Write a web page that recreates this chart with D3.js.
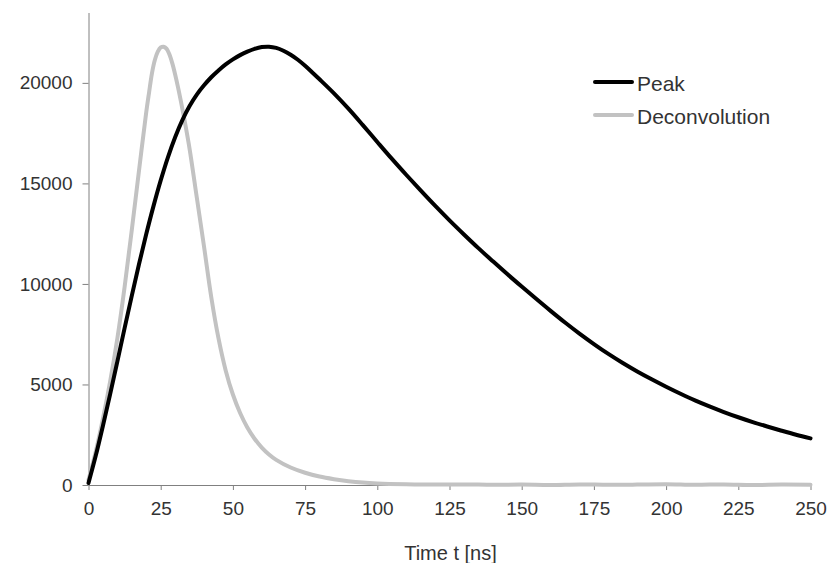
<!DOCTYPE html>
<html>
	<head>
		<meta charset="utf-8">
		<style>
			body{
				margin:0;
				background:#fff;
			}
			.tick text, .legend text, .title{
				font-family:"Liberation Sans", Arial, sans-serif;
				fill:#333;
			}
			.axis path, .axis line{
				stroke:#808080;
				stroke-width:1px;
			}
			.line{
				fill:none;
				stroke-linejoin:round;
				stroke-linecap:round;
			}
			.line-peak{
				stroke:#000;
				stroke-width:4px;
			}
			.line-deconv{
				stroke:#c2c2c2;
				stroke-width:4px;
			}
		</style>
		<script src="https://d3js.org/d3.v7.min.js"></script>
	</head>
	<body>
		<div class="container"></div>
		<script type="text/javascript">

			// series names (legend)
			var series_names = ["Peak", "Deconvolution"];

			// Peak: time [ns] and counts
			var peak_t = [0, 2.5, 5, 7.5, 10, 12.5, 15, 17.5, 20, 22.5, 25, 27.5, 30, 32.5, 35, 37.5, 40,
				42.5, 45, 47.5, 50, 52.5, 55, 57.5, 60, 62.5, 65, 67.5, 70, 72.5, 75, 77.5, 80, 85, 90, 95,
				100, 105, 110, 115, 120, 125, 130, 135, 140, 145, 150, 155, 160, 165, 170, 175, 180,
				185, 190, 195, 200, 205, 210, 215, 220, 225, 230, 235, 240, 245, 250];
			var peak_val = [100, 1450, 2950, 4520, 6150, 7800, 9420, 10990, 12480, 13870, 15150, 16300, 17300, 18150, 18850, 19420, 19880,
				20280, 20620, 20920, 21170, 21380, 21550, 21690, 21780, 21800, 21740, 21600, 21400, 21150, 20850, 20520, 20180, 19480, 18720, 17900,
				17060, 16230, 15430, 14650, 13890, 13160, 12460, 11780, 11130, 10490, 9870, 9260, 8660, 8080, 7530, 7010, 6520,
				6070, 5650, 5260, 4890, 4540, 4210, 3910, 3630, 3370, 3130, 2910, 2700, 2500, 2320];

			// Deconvolution: time [ns] and counts
			var deconv_t = [0, 2.5, 5, 7.5, 10, 12.5, 15, 17.5, 20, 21, 22, 23, 24, 25, 26, 27, 28, 29, 30, 31, 32,
				33.5, 35, 37.5, 40, 42.5, 45, 47.5, 50, 52.5, 55, 57.5, 60, 62.5, 65, 70, 75, 80, 85, 90, 95,
				100, 110, 120, 130, 140, 150, 160, 170, 180, 190, 200, 210, 220, 230, 240, 250];
			var deconv_val = [250, 1650, 3300, 5150, 7300, 9850, 12700, 15650, 18550, 19550, 20500, 21150, 21550, 21760, 21800, 21700, 21420, 20980, 20420, 19780, 19080,
				17950, 16720, 14300, 11860, 9350, 7300, 5700, 4500, 3580, 2860, 2300, 1860, 1520, 1250, 870, 610, 420, 290, 190, 120,
				80, 40, 20, 30, 10, 20, 0, 30, 10, 20, 40, 10, 30, 0, 20, 10];

			// tick labels
			var x_ticks = [0, 25, 50, 75, 100, 125, 150, 175, 200, 225, 250];
			var y_ticks = [0, 5000, 10000, 15000, 20000];

			function draw(){

				var margin = {top:12.5, bottom:78, left:88.5, right:21.5},
					width = 832 - margin.left - margin.right,
					height = 563 - margin.top - margin.bottom;

				var svg = d3.select('.container')
					.append('svg')
					.attr('width', 832)
					.attr('height', 563);

				var g = svg.append('g')
					.attr('transform', 'translate(' + margin.left + ',' + margin.top + ')');

				var x = d3.scaleLinear()
					.domain([0, 250])
					.range([0, width]);

				var y = d3.scaleLinear()
					.domain([0, 23500])
					.range([height, 0]);

				// eixo x
				var gx = g.append('g')
					.attr('class', 'axis')
					.attr('transform', 'translate(0,' + height + ')')
					.call(d3.axisBottom(x).tickValues(x_ticks).tickSize(5).tickSizeOuter(0).tickPadding(12));
				gx.selectAll('.tick text').style('font-size', '19px');

				// eixo y
				var gy = g.append('g')
					.attr('class', 'axis')
					.call(d3.axisLeft(y).tickValues(y_ticks).tickSize(6).tickSizeOuter(0).tickPadding(10)
						.tickFormat(d3.format('d')));
				gy.selectAll('.tick text').style('font-size', '19px');

				g.append('text')
					.attr('class', 'title')
					.attr('x', width / 2 + 1)
					.attr('y', height + 75)
					.attr('text-anchor', 'middle')
					.style('font-size', '20px')
					.text('Time t [ns]');

				var line = d3.line()
					.x(function(d){ return x(d[0]); })
					.y(function(d){ return y(d[1]); })
					.curve(d3.curveCatmullRom.alpha(0.5));

				var peak = peak_t.map(function(t, i){ return [t, peak_val[i]]; });
				var deconv = deconv_t.map(function(t, i){ return [t, deconv_val[i]]; });

				g.append('path')
					.datum(deconv)
					.attr('class', 'line line-deconv')
					.attr('d', line);

				g.append('path')
					.datum(peak)
					.attr('class', 'line line-peak')
					.attr('d', line);

				// legenda
				var legend = svg.append('g')
					.attr('class', 'legend')
					.attr('transform', 'translate(595,82)');

				var items = legend.selectAll('g')
					.data(series_names)
					.enter()
					.append('g')
					.attr('transform', function(d, i){ return 'translate(0,' + (i * 33) + ')'; });

				items.append('line')
					.attr('x1', 0)
					.attr('x2', 37)
					.attr('class', function(d, i){ return 'line ' + (i == 0 ? 'line-peak' : 'line-deconv'); });

				items.append('text')
					.attr('x', 42)
					.attr('y', 8.5)
					.style('font-size', '21px')
					.text(function(d){ return d; });
			}

			draw();
		</script>
	</body>
</html>
